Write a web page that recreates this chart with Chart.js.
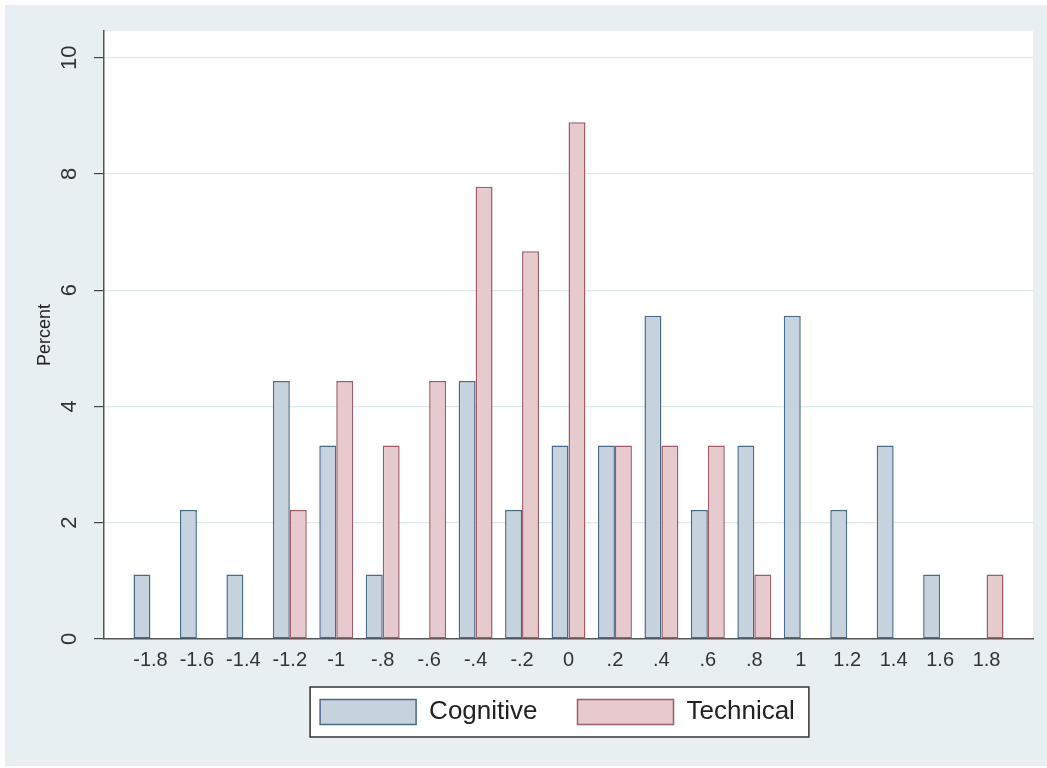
<!DOCTYPE html>
<html>
<head>
<meta charset="utf-8">
<script src="https://cdn.jsdelivr.net/npm/chart.js@4"></script>
<style>
    html, body { margin: 0; padding: 0; background: #ffffff; }
    canvas { display: block; }
</style>
</head>
<body>
<canvas id="histChart" width="1047" height="768"></canvas>
<script>
// Bin midpoints and their printed labels
const xValues = [-1.8, -1.6, -1.4, -1.2, -1, -0.8, -0.6, -0.4, -0.2, 0, 0.2, 0.4, 0.6, 0.8, 1, 1.2, 1.4, 1.6, 1.8];
const xLabels = ['-1.8', '-1.6', '-1.4', '-1.2', '-1', '-.8', '-.6', '-.4', '-.2', '0', '.2', '.4', '.6', '.8', '1', '1.2', '1.4', '1.6', '1.8'];

// Percent in each bin
const cognitive = [1.11, 2.22, 1.11, 4.44, 3.33, 1.11, 0, 4.44, 2.22, 3.33, 3.33, 5.56, 2.22, 3.33, 5.56, 2.22, 3.33, 1.11, 0];
const technical = [0, 0, 0, 2.22, 4.44, 3.33, 4.44, 7.78, 6.67, 8.89, 3.33, 3.33, 3.33, 1.11, 0, 0, 0, 0, 1.11];

const yTicks = [0, 2, 4, 6, 8, 10];

const FONT = '"Liberation Sans", Arial, Helvetica, sans-serif';

// Backgrounds: outer graph region, white plot region, legend frame
const backdrop = {
    id: 'backdrop',
    afterLayout(chart) {
        // centre the legend under the plot region and pull it up a bit, like Stata
        const lg = chart.legend;
        lg.left = chart.chartArea.left - 22;
        lg.right = chart.chartArea.right;
        lg.top -= 14;
        lg.bottom -= 14;
    },
    beforeDraw(chart) {
        const { ctx, chartArea } = chart;
        ctx.save();
        ctx.fillStyle = '#e8eff2';
        ctx.fillRect(5, 5, chart.width - 5, chart.height - 7);
        ctx.fillStyle = '#ffffff';
        ctx.fillRect(chartArea.left, chartArea.top, chartArea.right - chartArea.left, chartArea.bottom - chartArea.top);

        const boxes = chart.legend.legendHitBoxes;
        if (boxes && boxes.length) {
            const first = boxes[0];
            const last = boxes[boxes.length - 1];
            const x0 = first.left - 10;
            const y0 = first.top - 12;
            const x1 = last.left + last.width + 14;
            const y1 = first.top + first.height + 12;
            ctx.fillStyle = '#ffffff';
            ctx.fillRect(x0, y0, x1 - x0, y1 - y0);
            ctx.strokeStyle = '#333333';
            ctx.lineWidth = 1.5;
            ctx.strokeRect(x0, y0, x1 - x0, y1 - y0);
        }
        ctx.restore();
    }
};

const ctx = document.getElementById('histChart').getContext('2d');
const histChart = new Chart(ctx, {
    type: 'bar',
    data: {
        datasets: [
            {
                label: 'Cognitive',
                data: xValues.map((x, i) => ({ x: x, y: cognitive[i] })),
                backgroundColor: '#c6d2dd',
                borderColor: '#4a6a8c',
                borderWidth: 1.5,
                borderSkipped: false
            },
            {
                label: 'Technical',
                data: xValues.map((x, i) => ({ x: x, y: technical[i] })),
                backgroundColor: '#e6cacd',
                borderColor: '#9e5d67',
                borderWidth: 1.5,
                borderSkipped: false
            }
        ]
    },
    options: {
        responsive: false,
        animation: false,
        categoryPercentage: 0.73,
        barPercentage: 1,
        layout: {
            padding: { left: 0, right: 14, top: 31, bottom: 19 }
        },
        scales: {
            x: {
                type: 'linear',
                min: -2,
                max: 2,
                offset: false,
                grid: { display: false, drawTicks: false, offset: false },
                border: { display: true, color: '#555555', width: 1.5 },
                afterFit(scale) { scale.height = 34; },
                afterBuildTicks(scale) {
                    scale.ticks = [-2].concat(xValues, [2]).map(v => ({ value: v }));
                },
                ticks: {
                    autoSkip: false,
                    maxRotation: 0,
                    padding: 9,
                    color: '#333333',
                    font: { family: FONT, size: 20 },
                    callback(value) {
                        const i = xValues.findIndex(x => Math.abs(x - value) < 1e-6);
                        return i >= 0 ? xLabels[i] : '';
                    }
                }
            },
            y: {
                min: 0,
                max: 10.46,
                afterFit(scale) { scale.width = 104; },
                afterBuildTicks(scale) {
                    scale.ticks = yTicks.map(v => ({ value: v }));
                },
                grid: {
                    color: '#dfe9ec',
                    lineWidth: 1.2,
                    tickColor: '#444444',
                    tickLength: 10
                },
                border: { display: true, color: '#555555', width: 1.5 },
                ticks: {
                    minRotation: 90,
                    maxRotation: 90,
                    crossAlign: 'center',
                    padding: 12,
                    color: '#333333',
                    font: { family: FONT, size: 22 }
                },
                title: {
                    display: true,
                    text: 'Percent',
                    color: '#222222',
                    font: { family: FONT, size: 18 },
                    padding: { top: 34, bottom: 0 }
                }
            }
        },
        plugins: {
            legend: {
                position: 'bottom',
                labels: {
                    boxWidth: 96,
                    boxHeight: 25,
                    padding: 40,
                    color: '#222222',
                    font: { family: FONT, size: 26 }
                }
            },
            tooltip: { enabled: false }
        }
    },
    plugins: [backdrop]
});
</script>
</body>
</html>
